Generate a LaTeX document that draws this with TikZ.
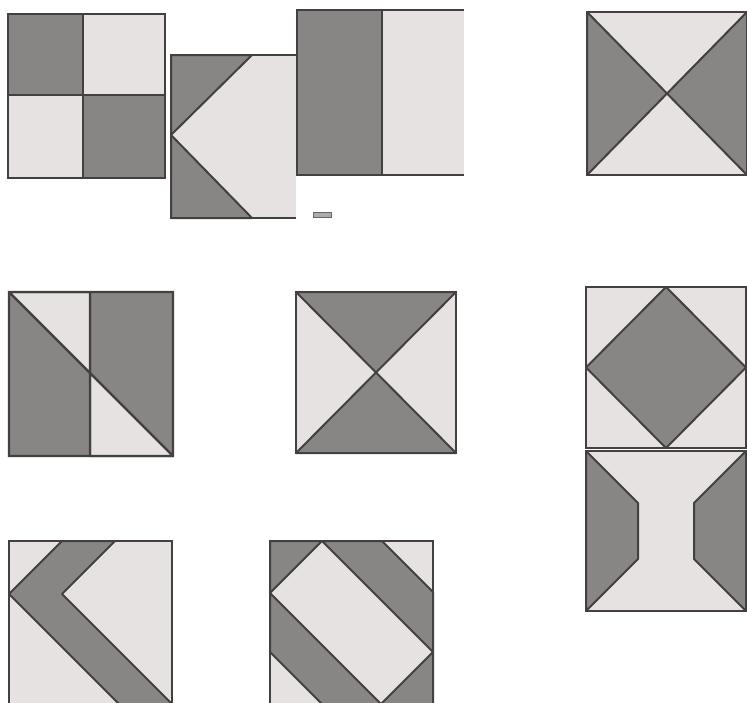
\documentclass[tikz,border=0pt]{standalone}
\usepackage{tikz}
\usetikzlibrary{positioning}

\definecolor{paper}{RGB}{231,226,226}
\definecolor{slate}{RGB}{136,133,133}
\definecolor{ink}{RGB}{68,64,64}

\begin{document}
\begin{tikzpicture}[x=1pt,y=-1pt,
  light/.style={fill=paper},
  dark/.style={fill=slate,draw=ink,line width=2pt,line join=round},
  rim/.style={draw=ink,line width=2.2pt}]
\fill[white] (0,0) rectangle (747,702);
\clip (0,0) rectangle (747,702);
% first row
\fill[light] (8,14) rectangle (165,178);
\path[dark] (8,14) rectangle (83,95) (83,95) rectangle (165,178);
\draw[rim] (8,14) rectangle (165,178);
\fill[light] (171,55) rectangle (296,218);
\path[dark] (171,55) -- (252,55) -- (171,135) -- cycle
            (171,135) -- (252,218) -- (171,218) -- cycle;
\draw[rim] (296,55) -- (171,55) -- (171,218) -- (296,218);
\fill[light] (297,10) rectangle (464,175);
\path[dark] (297,10) rectangle (382,175);
\draw[rim] (464,10) -- (297,10) -- (297,175) -- (464,175);
\filldraw[fill=slate!70,draw=ink!80,line width=0.8pt] (313,212) rectangle (331,217);
\fill[light] (587,12) rectangle (747,175);
\path[dark] (587,12) -- (667,93.5) -- (587,175) -- cycle
            (747,12) -- (667,93.5) -- (747,175) -- cycle;
\draw[rim] (747,12) -- (587,12) -- (587,175) -- (747,175);
% second row
\fill[slate] (9,292) rectangle (173,456);
\path[dark,fill=paper] (9,292) -- (90,292) -- (90,373) -- cycle
            (90,373) -- (90,456) -- (173,456) -- cycle;
\draw[rim] (9,292) rectangle (173,456) (90,292) -- (90,456) (9,292) -- (173,456);
\fill[light] (296,292) rectangle (456,453);
\path[dark] (296,292) -- (456,292) -- (376,372.5) -- cycle
            (296,453) -- (456,453) -- (376,372.5) -- cycle;
\draw[rim] (296,292) rectangle (456,453);
\fill[light] (586,287) rectangle (746,448);
\path[dark] (666,287) -- (746,367.5) -- (666,448) -- (586,367.5) -- cycle;
\draw[rim] (586,287) rectangle (746,448);
\fill[light] (586,451) rectangle (746,611);
\path[dark] (586,451) -- (638,503) -- (638,559) -- (586,611) -- cycle
            (746,451) -- (694,503) -- (694,559) -- (746,611) -- cycle;
\draw[rim] (586,451) rectangle (746,611);
% third row
\fill[light] (9,541) rectangle (172,704);
\path[dark] (62,541) -- (115,541) -- (62,594) -- (172,704) -- (119,704) -- (9,594) -- cycle;
\draw[rim] (9,541) rectangle (172,704);
\fill[light] (270,541) rectangle (433,704);
\path[dark] (270,541) -- (322,541) -- (270,593) -- cycle
            (322,541) -- (382,541) -- (433,592) -- (433,652) -- cycle
            (433,652) -- (433,704) -- (381,704) -- cycle
            (270,593) -- (381,704) -- (322,704) -- (270,652) -- cycle;
\draw[rim] (270,541) rectangle (433,704);
\end{tikzpicture}
\end{document}
